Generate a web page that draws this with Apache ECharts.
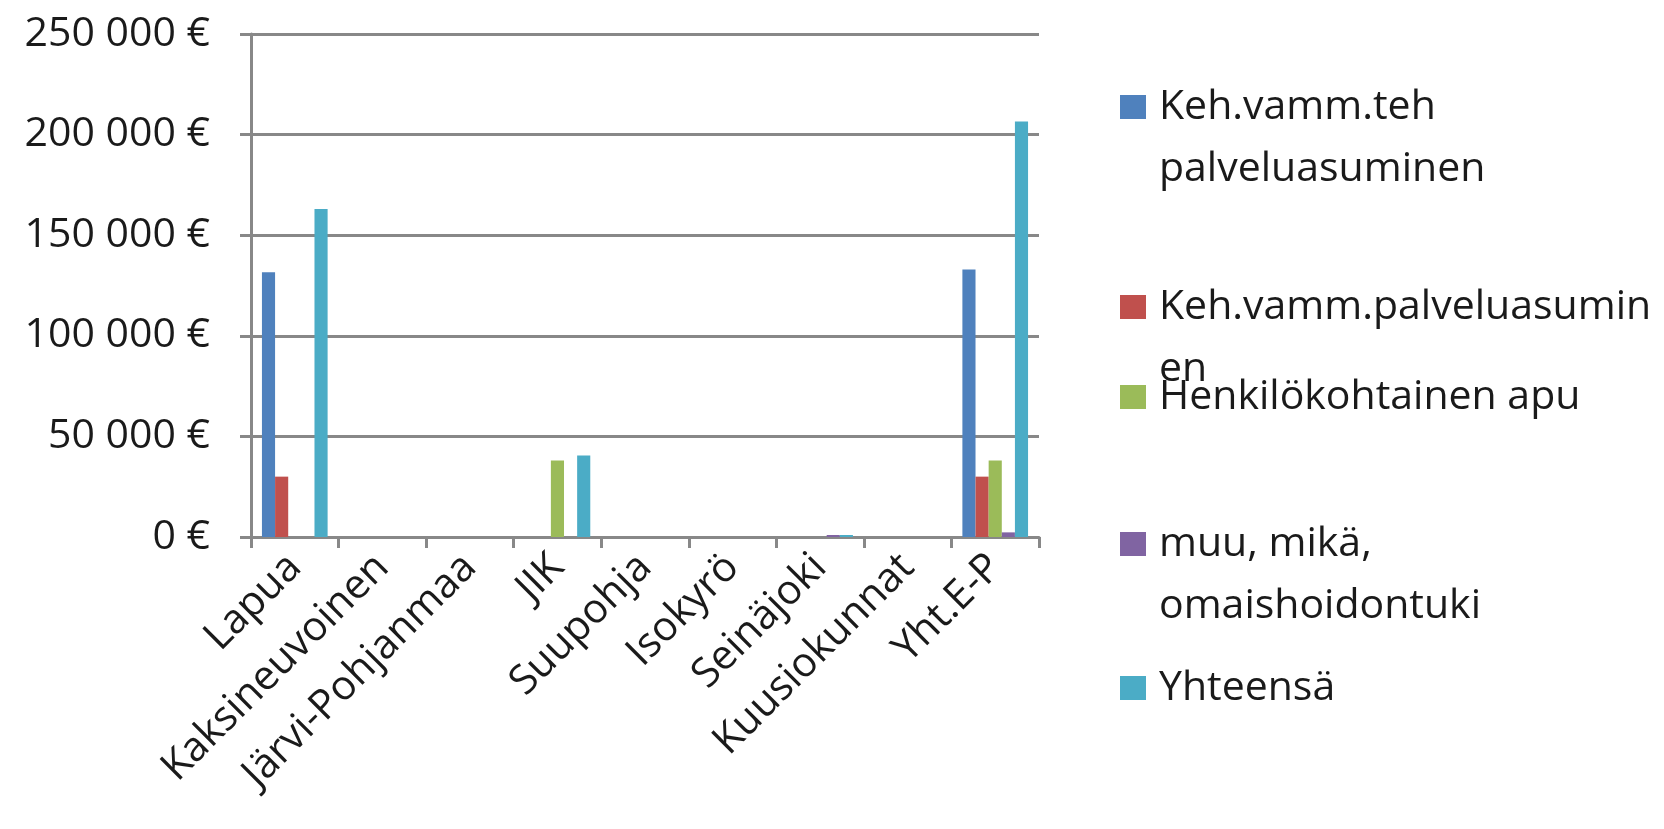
<!DOCTYPE html>
<html><head><meta charset="utf-8">
<script src="https://cdn.jsdelivr.net/npm/echarts@6/dist/echarts.min.js"></script>
<style>html,body{margin:0;padding:0;background:#fff}#c{width:1664px;height:829px}</style>
</head><body><div id="c"></div>
<script>
const categories = ['Lapua','Kaksineuvoinen','Järvi-Pohjanmaa','JIK','Suupohja','Isokyrö','Seinäjoki','Kuusiokunnat','Yht.E-P'];
const seriesNames = ['Keh.vamm.teh palveluasuminen','Keh.vamm.palveluasuminen','Henkilökohtainen apu','muu, mikä, omaishoidontuki','Yhteensä'];
const legendLine1 = ['Keh.vamm.teh','Keh.vamm.palveluasumin','Henkilökohtainen apu','muu, mikä,','Yhteensä'];
const legendLine2 = ['palveluasuminen','en','','omaishoidontuki',''];
const kehTeh = [131600,0,0,0,0,0,0,0,133000];
const kehPalv = [30000,0,0,0,0,0,0,0,30000];
const henkApu = [0,0,0,38000,0,0,0,0,38000];
const muu = [0,0,0,0,0,0,1000,0,2300];
const yhteensa = [163000,0,0,40500,0,0,1000,0,206500];
const yTicks = [0,50000,100000,150000,200000,250000];

const values = [kehTeh,kehPalv,henkApu,muu,yhteensa];
const colors = ['#4F81BD','#C0504D','#9BBB59','#8064A2','#4BACC6'];
const FONT = 'Open Sans';
const FS = 41;
const LH = 62;
const TXT = '#1a1a1a';
const legendCenters = [107,307,397,544,688];
const LEG_LEFT = 1120, ICON_W = 26, ICON_H = 24, TEXT_GAP = 5, TEXT_PAD = 8;

const legends = seriesNames.map((n,i)=>({
  data:[n], left:LEG_LEFT, top: legendCenters[i]-LH/2, padding:0,
  orient:'vertical', itemWidth:ICON_W, itemHeight:ICON_H, itemGap:0,
  icon:'rect', selectedMode:false,
  formatter: ()=>legendLine1[i],
  textStyle:{fontFamily:FONT,fontSize:FS,color:TXT,lineHeight:LH,padding:[0,0,0,TEXT_PAD]}
}));
const graphics = legendLine2.map((t,i)=>t?{
  type:'text', left: LEG_LEFT+ICON_W+TEXT_GAP+TEXT_PAD, top: legendCenters[i]+LH-LH/2,
  style:{text:t, font:FS+'px "'+FONT+'"', fill:TXT, lineHeight:LH, height:LH, verticalAlign:'middle'}
}:null).filter(Boolean);

const chart = echarts.init(document.getElementById('c'));
chart.setOption({
  animation:false,
  color:colors,
  legend:legends,
  graphic:graphics,
  grid:{left:251,right:625,top:34,bottom:292,containLabel:false},
  xAxis:{type:'category',data:categories,boundaryGap:true,
    axisLine:{lineStyle:{color:'#888',width:3}},
    axisTick:{show:true,length:11,lineStyle:{color:'#888',width:3}},
    axisLabel:{interval:0,rotate:45,margin:24,fontFamily:FONT,fontSize:FS,color:TXT}},
  yAxis:{type:'value',min:yTicks[0],max:yTicks[yTicks.length-1],interval:yTicks[1]-yTicks[0],
    axisLine:{show:true,lineStyle:{color:'#888',width:3}},
    axisTick:{show:true,length:11,lineStyle:{color:'#888',width:3}},
    splitLine:{lineStyle:{color:'#888',width:3}},
    axisLabel:{margin:41,fontFamily:FONT,fontSize:FS,color:TXT,
      formatter:v=>(v===0?'0':String(v).replace(/\B(?=(\d{3})+(?!\d))/g,'\u00a0'))+'\u00a0€'}},
  series: seriesNames.map((n,i)=>({name:n,type:'bar',data:values[i],barGap:'0%',barCategoryGap:'25%'}))
});
</script></body></html>
